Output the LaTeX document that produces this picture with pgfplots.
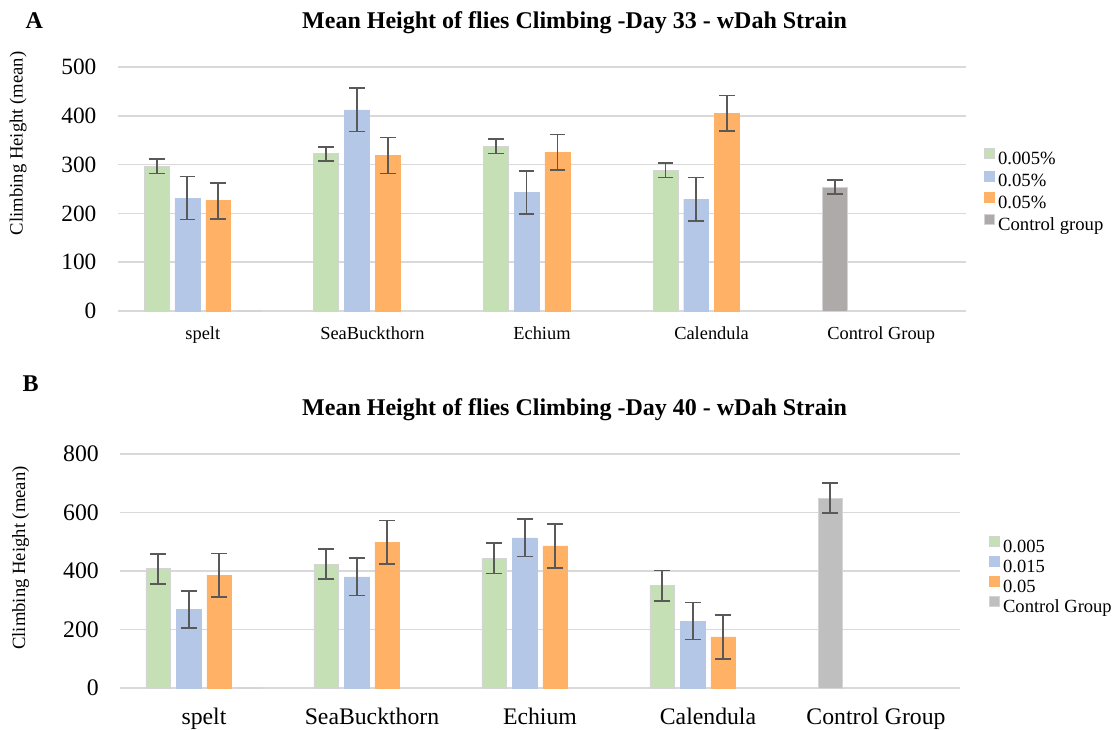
\documentclass[border=0pt]{standalone}
\usepackage{pgfplots}
\pgfplotsset{compat=1.18}
\usepackage{fontspec}
\setmainfont{Liberation Serif}

\definecolor{cgreen}{HTML}{C5E0B4}
\definecolor{cblue}{HTML}{B4C7E7}
\definecolor{corange}{HTML}{FFB266}
\definecolor{cgreyA}{HTML}{AEAAAA}
\definecolor{cgreyB}{HTML}{BFBFBF}
\definecolor{errc}{HTML}{595959}
\definecolor{gridc}{HTML}{D9D9D9}
\definecolor{edgec}{HTML}{D4D4D4}

% Four bar slots per category: x = category index + slot offset
% (-0.272, -0.091, +0.091, +0.272); the control bar sits in the first slot.
\pgfplotsset{
  climbing/.style={
    scale only axis,
    xmin=-0.5, xmax=4.5, ymin=0,
    axis line style={draw=none},
    major tick length=0pt,
    ymajorgrids,
    grid style={gridc, line width=1.3pt},
    xtick={0,1,2,3,4},
    xticklabels={spelt,SeaBuckthorn,Echium,Calendula,Control Group},
    /pgf/number format/assume math mode=true,
    clip=false,
    legend cell align=left,
    legend image code/.code={\draw[##1] (0pt,1.1pt) rectangle (7.5pt,8.6pt);},
  },
  slot/.style={ybar, bar width=0.147, bar shift=0pt},
  errs/.style={error bars/.cd, y dir=both, y explicit,
    error bar style={errc, line width=1.3pt},
    error mark options={errc, rotate=90, mark size=5.9pt, line width=1.3pt}},
}

\begin{document}
\begin{tikzpicture}
\path[use as bounding box] (0,0) rectangle (836.25pt,547.5pt);

% ---------------- Panel A: day 33 ----------------
\node[anchor=base west, font={\fontsize{18}{20}\selectfont\bfseries}] at (15.75pt,526.3pt) {A};
\node[anchor=base, font={\fontsize{18}{20}\selectfont\bfseries}] at (430.9pt,526.3pt)
  {Mean Height of flies Climbing -Day 33 - wDah Strain};
\node[rotate=90, font={\fontsize{14}{16}\selectfont}] at (13.7pt,440pt) {Climbing Height (mean)};

\begin{axis}[climbing,
  at={(88.5pt,314.25pt)}, anchor=south west,
  width=636pt, height=183pt,
  ymax=500, ytick={0,100,...,500},
  yticklabel style={font={\fontsize{17.5}{20}\selectfont}, anchor=east, inner sep=0pt, xshift=-16pt},
  xticklabel style={font={\fontsize{13.8}{16}\selectfont}, anchor=base, inner sep=0pt, yshift=-21.75pt},
  legend style={at={(1,0.5)}, anchor=west, xshift=13.5pt, yshift=-2pt, draw=none, fill=none,
    inner sep=0pt, outer sep=0pt, row sep=1.15pt, column sep=2.5pt,
    font={\fontsize{14}{16}\selectfont},
    nodes={inner sep=0pt, text height=9.8pt, text depth=3.2pt}},
]
\addplot[slot, fill=cgreen, draw=edgec, line width=0.6pt, errs] coordinates {
  (-0.272,296.5) +- (0,14.6)
  (0.728,322)    +- (0,14.6)
  (1.728,337.5)  +- (0,14.6)
  (2.728,288)    +- (0,14.6)
};
\addlegendentry{0.005\%}
\addplot[slot, fill=cblue, draw=cblue, line width=0.3pt, errs] coordinates {
  (-0.091,231.5) +- (0,44.3)
  (0.909,412)    +- (0,44.3)
  (1.909,242.5)  +- (0,44.3)
  (2.909,229)    +- (0,44.3)
};
\addlegendentry{0.05\%}
\addplot[slot, fill=corange, draw=corange, line width=0.3pt, errs] coordinates {
  (0.091,226)   +- (0,36.8)
  (1.091,318.5) +- (0,36.8)
  (2.091,325)   +- (0,36.8)
  (3.091,405)   +- (0,36.8)
};
\addlegendentry{0.05\%}
\addplot[slot, fill=cgreyA, draw=edgec, line width=0.6pt, errs] coordinates {
  (3.728,253.7) +- (0,14.6)
};
\addlegendentry{Control group}
\addplot[slot, fill=cgreyA, draw=edgec, line width=0.6pt, forget plot] coordinates {(0.272,0)};
\end{axis}

% ---------------- Panel B: day 40 ----------------
\node[anchor=base west, font={\fontsize{18}{20}\selectfont\bfseries}] at (13.5pt,253.5pt) {B};
\node[anchor=base, font={\fontsize{18}{20}\selectfont\bfseries}] at (430.9pt,235.6pt)
  {Mean Height of flies Climbing -Day 40 - wDah Strain};
\node[rotate=90, font={\fontsize{14}{16}\selectfont}] at (15.5pt,129pt) {Climbing Height (mean)};

\begin{axis}[climbing,
  at={(90pt,31.5pt)}, anchor=south west,
  width=630pt, height=175.5pt,
  ymax=800, ytick={0,200,...,800},
  yticklabel style={font={\fontsize{17.8}{20}\selectfont}, anchor=east, inner sep=0pt, xshift=-15.75pt},
  xticklabel style={font={\fontsize{17.8}{20}\selectfont}, anchor=base, inner sep=0pt, yshift=-27.5pt},
  legend style={at={(1,0.5)}, anchor=west, xshift=21.75pt, yshift=-4pt, draw=none, fill=none,
    inner sep=0pt, outer sep=0pt, row sep=-0.2pt, column sep=2.5pt,
    font={\fontsize{13.9}{16}\selectfont},
    nodes={inner sep=0pt, text height=9.8pt, text depth=3.2pt}},
]
\addplot[slot, fill=cgreen, draw=edgec, line width=0.6pt, errs] coordinates {
  (-0.272,407.5) +- (0,51.5)
  (0.728,423.5)  +- (0,51.5)
  (1.728,443)    +- (0,51.5)
  (2.728,350)    +- (0,51.5)
};
\addlegendentry{0.005}
\addplot[slot, fill=cblue, draw=cblue, line width=0.3pt, errs] coordinates {
  (-0.091,268)   +- (0,63.5)
  (0.909,380)    +- (0,63.5)
  (1.909,513.5)  +- (0,63.5)
  (2.909,229)    +- (0,63.5)
};
\addlegendentry{0.015}
\addplot[slot, fill=corange, draw=corange, line width=0.3pt, errs] coordinates {
  (0.091,385.5) +- (0,74.5)
  (1.091,498.5) +- (0,74.5)
  (2.091,485.5) +- (0,74.5)
  (3.091,174.5) +- (0,74.5)
};
\addlegendentry{0.05}
\addplot[slot, fill=cgreyB, draw=edgec, line width=0.6pt, errs] coordinates {
  (3.728,649.5) +- (0,51.5)
};
\addlegendentry{Control Group}
\addplot[slot, fill=cgreyB, draw=edgec, line width=0.6pt, forget plot] coordinates {(0.272,0)};
\end{axis}
\end{tikzpicture}
\end{document}
